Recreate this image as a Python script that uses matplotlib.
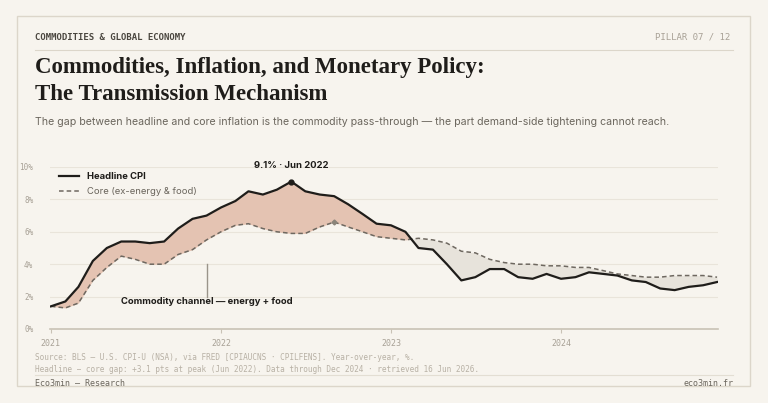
import numpy as np
import pandas as pd
import matplotlib
matplotlib.use("Agg")
import matplotlib.pyplot as plt
import matplotlib.dates as mdates
from matplotlib.lines import Line2D

# monthly YoY %, Jan 2021 - Dec 2024
months = pd.date_range("2021-01-01", "2024-12-01", freq="MS")
headline = [1.4, 1.7, 2.6, 4.2, 5.0, 5.4, 5.4, 5.3, 5.4, 6.2, 6.8, 7.0,
            7.5, 7.9, 8.5, 8.3, 8.6, 9.1, 8.5, 8.3, 8.2, 7.7, 7.1, 6.5,
            6.4, 6.0, 5.0, 4.9, 4.0, 3.0, 3.2, 3.7, 3.7, 3.2, 3.1, 3.4,
            3.1, 3.2, 3.5, 3.4, 3.3, 3.0, 2.9, 2.5, 2.4, 2.6, 2.7, 2.9]
core = [1.4, 1.3, 1.6, 3.0, 3.8, 4.5, 4.3, 4.0, 4.0, 4.6, 4.9, 5.5,
        6.0, 6.4, 6.5, 6.2, 6.0, 5.9, 5.9, 6.3, 6.6, 6.3, 6.0, 5.7,
        5.6, 5.5, 5.6, 5.5, 5.3, 4.8, 4.7, 4.3, 4.1, 4.0, 4.0, 3.9,
        3.9, 3.8, 3.8, 3.6, 3.4, 3.3, 3.2, 3.2, 3.3, 3.3, 3.3, 3.2]
y_ticks = [0, 2, 4, 6, 8, 10]
x_years = ["2021", "2022", "2023", "2024"]

BG = "#f7f4ee"
INK = "#1f1d1a"
MUTED = "#a8a196"
GRID = "#e9e4da"
SANS = ["Inter", "DejaVu Sans"]
MONO = "DejaVu Sans Mono"

h = np.array(headline)
c = np.array(core)

fig = plt.figure(figsize=(7.68, 4.03), dpi=100, facecolor=BG)

# outer frame
frame = plt.Rectangle((17 / 768, 1 - 386 / 403), 733 / 768, 370 / 403, transform=fig.transFigure,
                      fill=False, edgecolor="#dcd6ca", lw=1)
fig.add_artist(frame)
fig.add_artist(Line2D([35 / 768, 733 / 768], [1 - 50 / 403] * 2, transform=fig.transFigure, color="#dcd6ca", lw=0.8))
fig.add_artist(Line2D([35 / 768, 733 / 768], [1 - 375 / 403] * 2, transform=fig.transFigure, color="#e3ded3", lw=0.8))

fig.text(35 / 768, 1 - 37 / 403, "COMMODITIES & GLOBAL ECONOMY", family=MONO, fontsize=6.5,
         color="#4a463f", va="center", fontweight="bold")
fig.text(730 / 768, 1 - 37 / 403, "PILLAR 07 / 12", family=MONO, fontsize=6.5,
         color=MUTED, va="center", ha="right")
fig.text(35 / 768, 1 - 68 / 403, "Commodities, Inflation, and Monetary Policy:", family="Liberation Serif",
         fontsize=16.5, fontweight="bold", color=INK, va="center")
fig.text(35 / 768, 1 - 94 / 403, "The Transmission Mechanism", family="Liberation Serif",
         fontsize=16.5, fontweight="bold", color=INK, va="center")
fig.text(35 / 768, 1 - 122 / 403,
         "The gap between headline and core inflation is the commodity pass-through \u2014 the part demand-side tightening cannot reach.",
         family=SANS, fontsize=7.6, color="#6b665d", va="center")
fig.text(35 / 768, 1 - 358 / 403,
         "Source: BLS \u2014 U.S. CPI-U (NSA), via FRED [CPIAUCNS \u00b7 CPILFENS]. Year-over-year, %.",
         family=MONO, fontsize=5.6, color="#b8b1a5", va="center")
fig.text(35 / 768, 1 - 369 / 403,
         "Headline \u2212 core gap: +3.1 pts at peak (Jun 2022). Data through Dec 2024 \u00b7 retrieved 16 Jun 2026.",
         family=MONO, fontsize=5.6, color="#b8b1a5", va="center")
fig.text(35 / 768, 1 - 384 / 403, "Eco3min \u2014 Research", family=MONO, fontsize=6, color="#6b665d", va="center")
fig.text(733 / 768, 1 - 384 / 403, "eco3min.fr", family=MONO, fontsize=6, color="#6b665d", va="center", ha="right")

ax = fig.add_axes([50 / 768, 1 - 329 / 403, 668 / 768, 162 / 403])
ax.set_facecolor(BG)
ax.fill_between(months, h, c, where=h >= c, interpolate=True, color="#e4c3b2", lw=0)
ax.fill_between(months, h, c, where=h < c, interpolate=True, color="#e7e3db", lw=0)
ax.plot(months, c, color="#6e6860", lw=1.1, ls=(0, (3, 2)))
ax.plot(months, h, color=INK, lw=1.6)

pk = int(np.argmax(h))
ax.plot(months[pk], h[pk], "o", color=INK, ms=3.5)
ax.annotate(f"{h[pk]:.1f}% \u00b7 {months[pk]:%b %Y}", (months[pk], h[pk]), xytext=(0, 8),
            textcoords="offset points", ha="center", va="bottom", fontsize=6.8, family=SANS,
            fontweight="bold", color=INK)
ck = 20
ax.plot(months[ck], c[ck], "D", color="#8a847a", ms=2.5)

xa = pd.Timestamp("2021-12-01")
ax.plot([xa, xa], [4.0, 2.0], color="#9a948a", lw=1)
ax.text(xa, 1.7, "Commodity channel \u2014 energy + food", ha="center", va="center", fontsize=6.8,
        family=SANS, fontweight="bold", color=INK)

ax.set_ylim(0, 10)
ax.set_xlim(months[0] - pd.Timedelta(days=2), months[-1] + pd.Timedelta(days=2))
ax.set_yticks(y_ticks)
ax.set_yticklabels([f"{v}%" for v in y_ticks], family=MONO, fontsize=5.5, color=MUTED)
ax.set_xticks([pd.Timestamp(f"{y}-01-01") for y in x_years])
ax.set_xticklabels(x_years, family=MONO, fontsize=6, color=MUTED)
ax.grid(axis="y", color=GRID, lw=0.8)
ax.set_axisbelow(True)
for s in ["top", "right", "left"]:
    ax.spines[s].set_visible(False)
ax.spines["bottom"].set_color("#c9c2b5")
ax.spines["bottom"].set_linewidth(1.2)
ax.tick_params(axis="y", length=0, pad=12)
ax.tick_params(axis="x", length=3, color="#c9c2b5", pad=4)

handles = [Line2D([], [], color=INK, lw=1.6), Line2D([], [], color="#6e6860", lw=1.1, ls=(0, (3, 2)))]
leg = ax.legend(handles, ["Headline CPI", "Core (ex-energy & food)"], loc="upper left",
                bbox_to_anchor=(0.0, 1.02), frameon=False, handlelength=2.2,
                prop={"family": SANS, "size": 6.8}, labelspacing=0.6)
leg.get_texts()[0].set_fontweight("bold")
leg.get_texts()[0].set_color(INK)
leg.get_texts()[1].set_color("#6b665d")

fig.savefig("out.png", dpi=100, facecolor=BG)
